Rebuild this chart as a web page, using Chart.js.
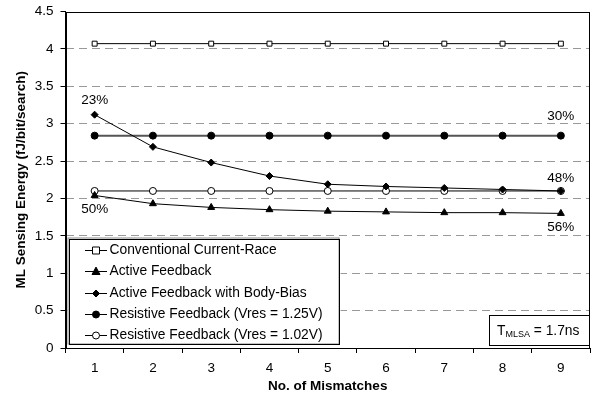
<!DOCTYPE html>
<html>
<head>
<meta charset="utf-8">
<script src="https://cdn.jsdelivr.net/npm/chart.js"></script>
<style>
html,body{margin:0;padding:0;background:#fff;}
#wrap{position:relative;width:595px;height:396px;}
</style>
</head>
<body>
<div id="wrap"><canvas id="c" width="595" height="396"></canvas></div>
<script>
// ---- data ----
const categories = ['1', '2', '3', '4', '5', '6', '7', '8', '9'];
const conventionalCurrentRace = [4.07, 4.07, 4.07, 4.07, 4.07, 4.07, 4.07, 4.07, 4.07];
const activeFeedback = [2.04, 1.93, 1.88, 1.85, 1.83, 1.82, 1.81, 1.81, 1.80];
const activeFeedbackBodyBias = [3.12, 2.69, 2.48, 2.30, 2.19, 2.16, 2.14, 2.12, 2.10];
const resistive125 = [2.84, 2.84, 2.84, 2.84, 2.84, 2.84, 2.84, 2.84, 2.84];
const resistive102 = [2.10, 2.10, 2.10, 2.10, 2.10, 2.10, 2.10, 2.10, 2.10];
const seriesNames = [
  'Conventional Current-Race',
  'Active Feedback',
  'Active Feedback with Body-Bias',
  'Resistive Feedback (Vres = 1.25V)',
  'Resistive Feedback (Vres = 1.02V)'
];
const yTickValues = [0, 0.5, 1, 1.5, 2, 2.5, 3, 3.5, 4, 4.5];
const percentLabels = ['23%', '30%', '48%', '50%', '56%'];
const xTitle = 'No. of Mismatches';
const yTitle = 'ML Sensing Energy (fJ/bit/search)';
const noteMain = 'T';
const noteSub = 'MLSA';
const noteRest = ' = 1.7ns';

const FONT = '"Liberation Sans", Arial, Helvetica, sans-serif';
Chart.defaults.font.family = FONT;
Chart.defaults.color = '#000';

// where each percentage label sits: dataset index, point index, pixel offset
const percentAnchors = [
  {ds: 2, i: 0, dy: -14},
  {ds: 3, i: 8, dy: -19},
  {ds: 2, i: 8, dy: -13},
  {ds: 1, i: 0, dy: 14},
  {ds: 1, i: 8, dy: 14}
];

function drawMarker(ctx, style, x, y, r, fill, stroke) {
  ctx.save();
  ctx.fillStyle = fill; ctx.strokeStyle = stroke; ctx.lineWidth = 1;
  ctx.beginPath();
  if (style === 'rect') {
    ctx.rect(x - r, y - r, 2 * r, 2 * r);
  } else if (style === 'triangle') {
    ctx.moveTo(x, y - r * 1.1); ctx.lineTo(x + r, y + r * 0.75); ctx.lineTo(x - r, y + r * 0.75); ctx.closePath();
  } else if (style === 'rectRot') {
    ctx.moveTo(x, y - r); ctx.lineTo(x + r, y); ctx.lineTo(x, y + r); ctx.lineTo(x - r, y); ctx.closePath();
  } else {
    ctx.arc(x, y, r, 0, Math.PI * 2);
  }
  ctx.fill(); ctx.stroke();
  ctx.restore();
}

const overlayPlugin = {
  id: 'overlay',
  afterDraw(chart) {
    const ctx = chart.ctx;
    const ca = chart.chartArea;
    // plot frame
    ctx.save();
    ctx.strokeStyle = '#000'; ctx.lineWidth = 1;
    ctx.strokeRect(Math.round(ca.left) + 0.5, Math.round(ca.top) + 0.5,
                   Math.round(ca.right) - Math.round(ca.left) - 1, Math.round(ca.bottom) - Math.round(ca.top));
    ctx.restore();

    // percentage labels
    ctx.save();
    ctx.font = '13.5px ' + FONT;
    ctx.fillStyle = '#000';
    ctx.textAlign = 'center'; ctx.textBaseline = 'middle';
    percentAnchors.forEach((a, k) => {
      const pt = chart.getDatasetMeta(a.ds).data[a.i];
      ctx.fillText(percentLabels[k], pt.x, pt.y + a.dy);
    });
    ctx.restore();

    // legend box
    const lx = 69.5, ly = 239.5, lw = 270, lh = 105;
    ctx.save();
    ctx.fillStyle = '#fff';
    ctx.fillRect(lx - 2, ly - 2, lw + 3, lh + 3);
    ctx.strokeStyle = '#888'; ctx.lineWidth = 1;
    ctx.strokeRect(lx - 1.5, ly - 1.5, lw + 1, lh + 1);
    ctx.strokeStyle = '#000';
    ctx.strokeRect(lx, ly, lw, lh);
    ctx.font = '13.8px ' + FONT;
    ctx.textAlign = 'left'; ctx.textBaseline = 'middle';
    const rowY0 = 250, rowStep = 21.3;
    const order = [0, 1, 2, 3, 4];
    order.forEach((di, r) => {
      const ds = chart.data.datasets[di];
      const y = Math.round(rowY0 + r * rowStep) + 0.5;
      ctx.strokeStyle = '#000'; ctx.lineWidth = 1;
      ctx.beginPath(); ctx.moveTo(85, y); ctx.lineTo(107, y); ctx.stroke();
      drawMarker(ctx, ds.pointStyle, 96, y, ds.pointRadius, ds.pointBackgroundColor, ds.pointBorderColor);
      ctx.fillStyle = '#000';
      ctx.fillText(ds.label, 109.5, y);
    });
    ctx.restore();

    // note box
    ctx.save();
    const bx = 489.5, by = 315.5, bw = 100, bh = 30;
    ctx.fillStyle = '#fff'; ctx.fillRect(bx, by, bw, bh);
    ctx.strokeStyle = '#000'; ctx.lineWidth = 1; ctx.strokeRect(bx, by, bw, bh);
    ctx.fillStyle = '#000'; ctx.textBaseline = 'alphabetic'; ctx.textAlign = 'left';
    let tx = 497, ty = 335;
    ctx.font = '13.8px ' + FONT; ctx.fillText(noteMain, tx, ty); tx += ctx.measureText(noteMain).width;
    ctx.font = '9px ' + FONT; ctx.fillText(noteSub, tx, ty + 2); tx += ctx.measureText(noteSub).width;
    ctx.font = '13.8px ' + FONT; ctx.fillText(noteRest, tx, ty);
    ctx.restore();
  }
};

function mk(label, data, style, radius, fill, line, width) {
  return {
    label, data,
    borderColor: line, borderWidth: width,
    pointStyle: style, pointRadius: radius, pointHoverRadius: radius,
    pointBackgroundColor: fill, pointBorderColor: '#000', pointBorderWidth: 1,
    backgroundColor: fill, tension: 0, fill: false
  };
}

new Chart(document.getElementById('c'), {
  type: 'line',
  data: {
    labels: categories,
    datasets: [
      mk(seriesNames[0], conventionalCurrentRace, 'rect', 3.5, '#fff', '#000', 1),
      mk(seriesNames[1], activeFeedback, 'triangle', 4, '#000', '#000', 1),
      mk(seriesNames[2], activeFeedbackBodyBias, 'rectRot', 3.5, '#000', '#000', 1),
      mk(seriesNames[3], resistive125, 'circle', 3.5, '#000', '#555', 2),
      mk(seriesNames[4], resistive102, 'circle', 3.5, '#fff', '#000', 1)
    ]
  },
  options: {
    responsive: false,
    animation: false,
    devicePixelRatio: 1,
    layout: {padding: {top: 11.5, right: 3, bottom: 0, left: 0}},
    plugins: {legend: {display: false}, tooltip: {enabled: false}},
    scales: {
      x: {
        type: 'category',
        offset: true,
        grid: {offset: true, drawOnChartArea: false, drawTicks: true, tickLength: 5, tickColor: '#000'},
        border: {display: true, color: '#000', width: 1},
        ticks: {padding: 7, font: {size: 13.5}, color: '#000', maxRotation: 0},
        title: {display: true, text: xTitle, font: {size: 13.5, weight: 'bold'}, color: '#000', padding: {top: 0, bottom: 2}},
        afterFit(s) { s.height = 48; s.paddingLeft = 0; s.paddingRight = 0; }
      },
      y: {
        min: 0, max: 4.5,
        afterBuildTicks(s) { s.ticks = yTickValues.map(v => ({value: v})); },
        ticks: {padding: 7, font: {size: 13.5}, color: '#000', callback: (v) => String(v)},
        grid: {
          color: (c) => (c.tick && (c.tick.value === 0 || c.tick.value === 4.5)) ? 'rgba(0,0,0,0)' : '#999',
          lineWidth: 1, tickLength: 5, tickColor: '#000', tickBorderDash: [], drawTicks: true
        },
        border: {display: true, color: '#000', width: 1, dash: [8, 5]},
        title: {display: true, text: yTitle, font: {size: 13.5, weight: 'bold'}, color: '#000', padding: {top: 13, bottom: 0}},
        afterFit(s) { s.width = 65.5; s.paddingTop = 0; s.paddingBottom = 0; }
      }
    }
  },
  plugins: [overlayPlugin]
});
</script>
</body>
</html>
